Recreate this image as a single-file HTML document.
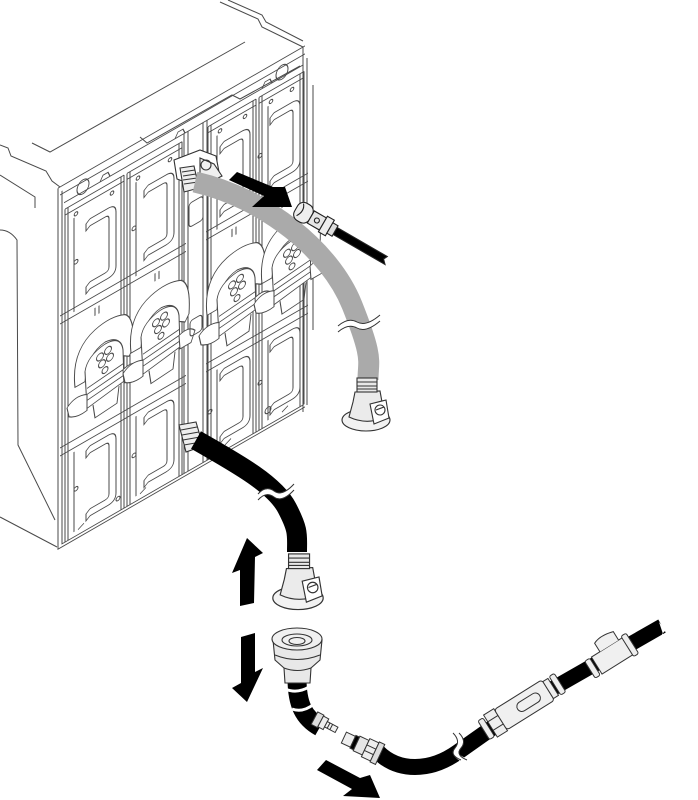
<!DOCTYPE html>
<html><head><meta charset="utf-8"><style>html,body{margin:0;padding:0;background:#fff}svg{display:block}</style></head>
<body>
<svg width="698" height="800" viewBox="0 0 698 800" xmlns="http://www.w3.org/2000/svg">
<defs>
<g id="hd" fill="none" stroke="#4a4a4a" stroke-width="1">
<path d="M4,0 L22,0 Q30,0 30,8 L30,62 Q30,70 22,70 L4,70"/>
<path d="M4,7 L19,7 Q23,7 23,11 L23,59 Q23,63 19,63 L4,63"/>
<path d="M4,0 L0,3 L0,10 L4,7 M4,63 L0,66 L0,73 L4,70"/>
<circle cx="-10" cy="35" r="2"/>
</g>
<g id="lt" stroke="#4a4a4a" stroke-width="1">
<path fill="#fff" d="M2,50 Q-2,12 22,4 Q38,-1 52,6 Q62,14 60,44 L56,50 L50,46 Q50,24 32,22 Q14,24 12,50 Z"/>
<path fill="#fff" d="M12,40 Q14,26 32,24 Q48,24 50,40 L51,72 L14,78 Z"/>
<circle cx="27" cy="34" r="3.5" fill="none"/><circle cx="35" cy="32" r="3.5" fill="none"/>
<circle cx="29" cy="42" r="3.5" fill="none"/><circle cx="37" cy="40" r="3.5" fill="none"/>
<circle cx="32" cy="50" r="3" fill="none"/>
<path fill="none" d="M14,58 L51,54 M14,64 L51,60 M14,70 L51,66"/>
<path fill="#fff" d="M-6,66 Q2,58 14,64 L14,80 Q4,82 -4,76 Z"/>
<path fill="#fff" d="M50,60 Q60,56 66,64 L62,74 L51,74 Z"/>
<path fill="none" d="M20,78 L22,92 L44,90 L46,74"/>
</g>
<g id="qdf" stroke="#333" stroke-width="1.1">
<ellipse cx="0" cy="0" rx="24" ry="11" fill="#f2f2f2"/>
<path d="M-11,-28 L14,-29 L16,-18 L22,-4 Q2,6 -17,-3 L-13,-18 Z" fill="#ebebeb"/>
<path d="M4,-16 L20,-20 L23,-2 L8,4 Z" fill="#fff"/>
<circle cx="14" cy="-10" r="5" fill="none"/>
<path d="M10,-10 L18,-13" fill="none"/>
<rect x="-9" y="-42" width="20" height="14" fill="#e8e8e8"/>
<path d="M-9,-38 H11 M-9,-34 H11 M-9,-31 H11" fill="none"/>
</g>
</defs>
<rect width="698" height="800" fill="#fff"/>

<!-- top face & side -->
<g fill="none" stroke="#4a4a4a" stroke-width="1">
<path d="M220,2 L258,19 L262,27 L303,47"/>
<path d="M228,0 L262,15 L266,22 L303,41"/>
<path d="M0,145 L8,148 L11,156 L46,171 L52,181 L60,187"/>
<path d="M32,143 L50,152 L245,42"/>
<path d="M140,137 L147,143 L232,95 L240,99 L300,66"/>
<path d="M0,230 Q10,230 17,240 L18,445 L55,520"/>
<path d="M0,175 L35,197 L35,208"/>
<path d="M0,517 L57,547"/>
<path d="M303,47 L303,412 M307,58 L307,405 M313,85 L313,330"/>
</g>

<!-- front face (sheared) -->
<g transform="matrix(1 -0.576 0 1 0 34.56)" fill="none" stroke="#4a4a4a" stroke-width="1">
<path d="M58,187 L58,548 L305,548 M62,192 L62,545 L303,545"/>
<path d="M58,187 L305,187 M60,195 L305,195 M64,205 L303,205"/>
<ellipse cx="83" cy="200" rx="6" ry="7"/><ellipse cx="282" cy="200" rx="6" ry="7"/>
<path d="M100,205 l3,-5 l5,0 l2,5 M175,205 l3,-5 l5,0 l2,5 M262,205 l3,-5 l5,0 l2,5"/>
<path d="M65,212 V545 M68,212 V545 M121,212 V545 M124,212 V545"/>
<path d="M127,212 V545 M130,212 V545 M179,212 V545 M182,212 V545"/>
<path d="M184,205 V545 M188,205 V545 M203,205 V545 M207,205 V545"/>
<path d="M208,212 V545 M211,212 V545 M253,212 V545 M256,212 V545"/>
<path d="M259,212 V545 M262,212 V545 M300,212 V545 M304,212 V545"/>
<path d="M65,212 H124 M65,218 H124 M127,212 H182 M127,218 H182 M208,212 H256 M208,218 H256 M259,212 H304 M259,218 H304"/>
<circle cx="76" cy="223" r="1.8"/><circle cx="112" cy="223" r="1.8"/>
<circle cx="138" cy="223" r="1.8"/><circle cx="170" cy="223" r="1.8"/>
<circle cx="220" cy="223" r="1.8"/><circle cx="245" cy="223" r="1.8"/>
<circle cx="271" cy="223" r="1.8"/><circle cx="292" cy="223" r="1.8"/>
<path d="M74,226 V320 M136,226 V320 M217,226 V320 M268,226 V320"/>
<path d="M74,460 V540 M136,460 V540 M217,460 V540 M268,460 V540"/>
<use href="#hd" x="86" y="236"/><use href="#hd" x="144" y="236"/>
<use href="#hd" x="220" y="236"/><use href="#hd" x="270" y="236"/>
<path d="M60,316 H128 M60,324 H128 M124,316 H186 M124,324 H186 M206,316 H260 M206,324 H260 M256,316 H308 M256,324 H308"/>
<path d="M95,328 v8 M99,328 v8 M155,328 v8 M159,328 v8 M232,328 v8 M236,328 v8 M282,328 v8 M286,328 v8"/>
<path d="M60,448 H128 M60,456 H128 M124,448 H186 M124,456 H186 M206,448 H260 M206,456 H260 M256,448 H308 M256,456 H308"/>
<use href="#hd" x="86" y="463"/><use href="#hd" x="144" y="463"/>
<use href="#hd" x="220" y="463"/><use href="#hd" x="270" y="463"/>
<use href="#lt" x="73" y="346"/><use href="#lt" x="129" y="344"/>
<use href="#lt" x="205" y="350"/><use href="#lt" x="260" y="350"/>
<rect x="189" y="278" width="14" height="24" rx="3"/>
<rect x="190" y="396" width="12" height="16" rx="3"/>
<path d="M78,540 l6,-3 M140,540 l6,-3 M225,540 l6,-3 M282,540 l6,-3"/>
<circle cx="268" cy="530" r="3"/><circle cx="118" cy="532" r="2"/>
</g>

<!-- manifold top connector -->
<g stroke="#333" stroke-width="1.1">
<path d="M174,160 L200,150 L216,156 L219,172 L196,186 L177,179 Z" fill="#fff"/>
<path d="M200,158 L214,164 L222,176 L210,182 L200,176 Z" fill="#f0f0f0"/>
<circle cx="206" cy="165" r="5" fill="none"/>
<path d="M180,168 L194,166 L199,188 L184,192 Z" fill="#eee"/>
<path d="M182,172 L195,170 M183,176 L196,174 M183,180 L197,178 M184,184 L198,182" fill="none"/>
</g>

<!-- gray hose -->
<path d="M195,182 C265,198 330,250 352,305 S368,360 368,380" fill="none" stroke="#aaa" stroke-width="21"/>
<path d="M338,329 Q348,320 357,325 T380,318" fill="none" stroke="#fff" stroke-width="6"/>
<path d="M338,326 Q348,317 357,322 T380,315 M338,332 Q348,323 357,328 T380,321" fill="none" stroke="#333" stroke-width="1"/>
<use href="#qdf" x="366" y="420"/>

<!-- top arrow -->
<path d="M229,180 L237,172 L273,187 L285,187 L292,207 L252,207 L264,196 Z" fill="#000"/>

<!-- male connector top -->
<g transform="translate(316,220) rotate(30)" stroke="#222" stroke-width="1.1">
<path d="M14,-4 L80,-4 L78,0 L82,4 L14,4 Z" fill="#000"/>
<rect x="-23" y="-10" width="17" height="20" rx="7" fill="#eee"/>
<path d="M-19,-8 Q-14,-2 -19,6" fill="none"/>
<rect x="-6" y="-7" width="14" height="14" fill="#e6e6e6"/>
<circle cx="1" cy="0" r="2.5" fill="none"/>
<rect x="8" y="-9" width="8" height="18" fill="#eee"/>
<rect x="16" y="-6" width="6" height="12" fill="#ddd"/>
</g>

<!-- manifold lower coupling -->
<g stroke="#333" stroke-width="1.1">
<path d="M179,425 L196,422 L203,446 L186,452 Z" fill="#eee"/>
<path d="M181,430 L197,427 M182,435 L199,432 M183,440 L200,437 M184,445 L201,442" fill="none"/>
</g>

<!-- black hose from manifold -->
<path d="M196,440 C240,465 275,485 287,508 S297,535 297,552" fill="none" stroke="#000" stroke-width="20"/>
<path d="M258,497 Q266,488 274,494 T294,487" fill="none" stroke="#fff" stroke-width="5"/>
<path d="M258,494 Q266,485 274,491 T294,484 M258,500 Q266,491 274,497 T294,490" fill="none" stroke="#333" stroke-width="1"/>
<use href="#qdf" x="298" y="598" transform="translate(298,598) scale(1.05) translate(-298,-598)"/>

<!-- up / down arrows -->
<path d="M240,606 L240,570 L232,573 L247,538 L263,553 L255,557 L254,603 Z" fill="#000"/>
<path d="M241,637 L255,633 L255,672 L263,668 L247,702 L232,688 L241,683 Z" fill="#000"/>

<!-- lower male QD + elbow -->
<path d="M297,678 C297,705 304,718 320,727" fill="none" stroke="#000" stroke-width="19"/>
<path d="M285,689 Q297,694 309,687 M292,709 Q303,713 314,704" fill="none" stroke="#fff" stroke-width="3"/>
<g stroke="#333" stroke-width="1.1">
<path d="M273,640 L275,660 L284,668 L285,683 L310,683 L311,668 L320,660 L322,640 Z" fill="#e8e8e8"/>
<ellipse cx="297" cy="639" rx="25" ry="11" fill="#f0f0f0"/>
<ellipse cx="297" cy="640" rx="15" ry="6" fill="none"/>
<ellipse cx="297" cy="641" rx="8" ry="3.5" fill="none"/>
<path d="M275,655 Q297,664 320,655 M284,668 Q297,673 311,668" fill="none"/>
</g>
<g transform="translate(318,720) rotate(28)" stroke="#333" stroke-width="1">
<rect x="-4" y="-7" width="7" height="14" fill="#ddd"/>
<rect x="3" y="-6" width="6" height="12" fill="#eee"/>
<rect x="9" y="-3" width="12" height="6" fill="#f2f2f2"/>
<path d="M12,-3 v6 M15,-3 v6" fill="none"/>
</g>

<!-- long hose -->
<path d="M378,752 C398,772 430,772 458,752 L492,728" fill="none" stroke="#000" stroke-width="16"/>
<path d="M550,690 L662,626" fill="none" stroke="#000" stroke-width="15"/>
<path d="M456,733 Q464,741 458,748 T464,760" fill="none" stroke="#fff" stroke-width="5"/>
<path d="M453,733 Q461,741 455,748 T461,760 M459,733 Q467,741 461,748 T467,760" fill="none" stroke="#333" stroke-width="1"/>
<path d="M659,622 L666,630 L662,634 L665,640" fill="#fff" stroke="none"/>

<!-- male fitting on long hose -->
<g transform="translate(362,746) rotate(25)" stroke="#333" stroke-width="1">
<rect x="-20" y="-6" width="10" height="12" fill="#eee"/>
<rect x="-10" y="-7" width="4" height="14" fill="#000"/>
<rect x="-6" y="-8" width="10" height="16" fill="#e6e6e6"/>
<rect x="4" y="-10" width="10" height="20" fill="#eee"/>
<path d="M4,-3 H14 M4,3 H14" fill="none"/>
<rect x="14" y="-11" width="6" height="22" fill="#ddd"/>
</g>

<!-- inline filter -->
<g transform="translate(521,707) rotate(-32)" stroke="#333" stroke-width="1">
<rect x="-44" y="-11" width="6" height="22" rx="2" fill="#eee"/>
<rect x="-36" y="-13" width="12" height="26" fill="#eee"/>
<path d="M-36,-5 H-24 M-36,5 H-24" fill="none"/>
<rect x="-24" y="-12" width="56" height="24" rx="3" fill="#f0f0f0"/>
<rect x="-4" y="-5" width="26" height="10" rx="5" fill="none"/>
<rect x="32" y="-10" width="6" height="20" fill="#eee"/>
<rect x="40" y="-11" width="6" height="22" rx="2" fill="#eee"/>
</g>

<!-- fitting 2 -->
<g transform="translate(612,656) rotate(-32)" stroke="#333" stroke-width="1">
<rect x="-26" y="-10" width="6" height="20" rx="2" fill="#eee"/>
<path d="M-18,-10 L22,-10 L22,10 L-18,10 Z" fill="#f0f0f0"/>
<path d="M-8,-10 L-8,-20 Q0,-24 14,-20 L14,-10" fill="#f0f0f0"/>
<rect x="18" y="-12" width="6" height="24" rx="2" fill="#eee"/>
</g>

<!-- bottom arrow -->
<path d="M317,770 L326,760 L360,778 L370,775 L380,798 L343,796 L352,789 Z" fill="#000"/>
</svg>
</body></html>
